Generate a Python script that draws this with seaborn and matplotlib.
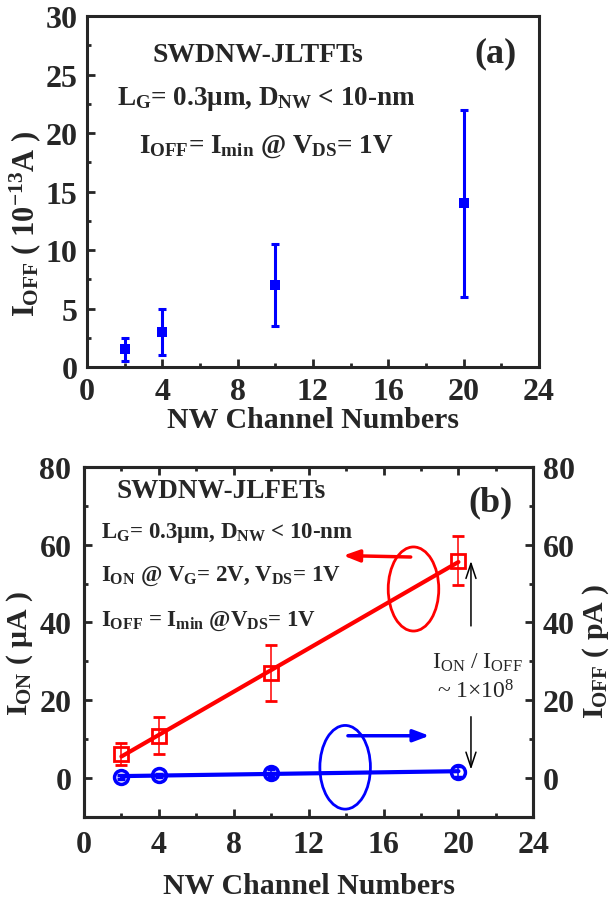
import numpy as np
import matplotlib
matplotlib.use("Agg")
import matplotlib.pyplot as plt
from matplotlib.patches import Ellipse
import seaborn as sns
import pandas as pd

# ---------------- data ----------------
n_top = [2, 4, 10, 20]
ioff_top = [1.5, 3.0, 7.0, 14.0]
ioff_top_err = [1.0, 2.0, 3.5, 8.0]

n_b = [2, 4, 10, 20]
ion = [6.2, 10.9, 27.0, 55.9]
ion_err = [2.8, 4.8, 7.2, 6.4]
ioff_b = [0.4, 0.7, 1.3, 1.7]
ioff_b_err = [0.5, 0.5, 1.0, 1.5]

x_ticks = [0, 4, 8, 12, 16, 20, 24]
ytop_ticks = [0, 5, 10, 15, 20, 25, 30]
yb_ticks = [0, 20, 40, 60, 80]

sns.set_theme(style="ticks")
plt.rcParams['font.family'] = ['Liberation Serif', 'DejaVu Serif']
plt.rcParams['font.weight'] = 'bold'
plt.rcParams['mathtext.fontset'] = 'custom'
plt.rcParams['mathtext.rm'] = 'Liberation Serif:bold'
plt.rcParams['mathtext.it'] = 'Liberation Serif:bold'
plt.rcParams['mathtext.bf'] = 'Liberation Serif:bold'
plt.rcParams['axes.linewidth'] = 2.2

BLUE = '#0000ff'
RED = '#ff0000'
TICKFS = 23
LABFS = 21.5

fig = plt.figure(figsize=(6.13, 9.03), dpi=100)

# ---------------- panel (a) ----------------
ax1 = fig.add_axes([0.142, 0.5925, 0.737, 0.3885])
df_a = pd.DataFrame({'n': n_top, 'ioff': ioff_top, 'err': ioff_top_err})
ax1.errorbar(df_a['n'], df_a['ioff'], yerr=df_a['err'], fmt='none', ecolor=BLUE,
             elinewidth=2.2, capsize=3, capthick=2.2)
sns.scatterplot(data=df_a, x='n', y='ioff', marker='s', s=55, color=BLUE,
                edgecolor=BLUE, linewidth=0, ax=ax1, zorder=3)
ax1.set_xlim(0, 24)
ax1.set_ylim(0, 30)
ax1.set_xticks(x_ticks)
ax1.set_yticks(ytop_ticks)
ax1.set_xticks(np.arange(2, 24, 4), minor=True)
ax1.set_yticks(np.arange(2.5, 30, 5), minor=True)
ax1.tick_params(which='major', direction='in', length=6, width=2,
                labelsize=TICKFS, pad=7, top=False, right=False)
ax1.tick_params(which='minor', direction='in', length=3, width=2,
                top=False, right=False)
ax1.set_xlabel('NW Channel Numbers', fontsize=LABFS, fontweight='bold', va='top')
ax1.xaxis.set_label_coords(0.5, -0.112)
ax1.set_ylabel(r'$I_{OFF}$ ( 10$^{-13}$A )', fontsize=22, fontweight='bold')
ax1.yaxis.set_label_coords(-0.098, 0.41)

ax1.text(9.1, 26.7, 'SWDNW-JLTFTs', fontsize=20, fontweight='bold', ha='center', va='center')
ax1.text(21.7, 26.9, '(a)', fontsize=26, fontweight='bold', ha='center', va='center')
ax1.text(9.5, 23.0, r'$L_G$= 0.3μm, $D_{NW}$ < 10-nm', fontsize=19.5, fontweight='bold',
         ha='center', va='center')
ax1.text(9.5, 18.9, r'$I_{OFF}$= $I_{min}$ @ $V_{DS}$= 1V', fontsize=19.5, fontweight='bold',
         ha='center', va='center')

# ---------------- panel (b) ----------------
ax2 = fig.add_axes([0.137, 0.094, 0.733, 0.388])
ax3 = ax2.twinx()
df_on = pd.DataFrame({'n': n_b, 'ion': ion, 'err': ion_err})
df_off = pd.DataFrame({'n': n_b, 'ioff': ioff_b, 'err': ioff_b_err})

sns.regplot(data=df_on, x='n', y='ion', ci=None, scatter=False, truncate=True,
            color=RED, line_kws={'lw': 3}, ax=ax2)
ax2.errorbar(df_on['n'], df_on['ion'], yerr=df_on['err'], fmt='s', ms=10, mfc='none',
             mec=RED, mew=2, ecolor=RED, elinewidth=1.1, capsize=4, capthick=1.1,
             color=RED, zorder=4)

sns.regplot(data=df_off, x='n', y='ioff', ci=None, scatter=False, truncate=True,
            color=BLUE, line_kws={'lw': 3}, ax=ax3)
ax3.errorbar(df_off['n'], df_off['ioff'], yerr=df_off['err'], fmt='o', ms=10, mfc='none',
             mec=BLUE, mew=2.5, ecolor=BLUE, elinewidth=1.1, capsize=3, capthick=1.1,
             color=BLUE, zorder=4)

for a in (ax2, ax3):
    a.set_xlim(0, 24)
    a.set_ylim(-10, 80)
    a.set_yticks(yb_ticks)
    a.set_yticks(np.arange(10, 80, 20), minor=True)
ax2.set_xticks(x_ticks)
ax2.set_xticks(np.arange(2, 24, 4), minor=True)
ax2.tick_params(which='major', direction='in', length=6, width=2, labelsize=TICKFS,
                pad=9, top=True, right=False)
ax2.tick_params(which='minor', direction='in', length=3, width=2, top=True, right=False)
ax3.tick_params(which='major', direction='in', length=6, width=2, labelsize=TICKFS, pad=7)
ax3.tick_params(which='minor', direction='in', length=3, width=2)
for a in (ax2, ax3):
    for s in a.spines.values():
        s.set_linewidth(2.2)

ax2.set_xlabel('NW Channel Numbers', fontsize=LABFS, fontweight='bold', va='top')
ax2.xaxis.set_label_coords(0.5, -0.158)
ax2.set_ylabel(r'$I_{ON}$ ( μA )', fontsize=LABFS, fontweight='bold')
ax2.yaxis.set_label_coords(-0.11, 0.47)
ax3.set_ylabel(r'$I_{OFF}$ ( pA )', fontsize=LABFS, fontweight='bold')
ax3.yaxis.set_label_coords(1.105, 0.475)
ax3.set_xlabel('')

ax3.text(7.3, 74, 'SWDNW-JLFETs', fontsize=19.5, fontweight='bold', ha='center', va='center')
ax3.text(21.7, 71, '(b)', fontsize=26, fontweight='bold', ha='center', va='center')
ax3.text(0.9, 63.3, r'$L_G$= 0.3μm, $D_{NW}$ < 10-nm', fontsize=16.5, fontweight='bold',
         ha='left', va='center')
ax3.text(0.9, 52.0, r'$I_{ON}$ @ $V_G$= 2V, $V_{DS}$= 1V', fontsize=16.5, fontweight='bold',
         ha='left', va='center')
ax3.text(0.9, 40.5, r'$I_{OFF}$ = $I_{min}$ @$V_{DS}$= 1V', fontsize=16.5, fontweight='bold',
         ha='left', va='center')
ax3.text(21.0, 29.8, r'$\mathregular{I_{ON}}$ / $\mathregular{I_{OFF}}$', fontsize=17,
         fontweight='normal', ha='center', va='center')
ax3.text(20.9, 22.5, r'~ 1×10$\mathregular{^8}$', fontsize=17, fontweight='normal',
         ha='center', va='center')

# ellipses and arrows
ax3.add_patch(Ellipse((17.6, 48.6), 2.7, 21.6, fill=False, ec=RED, lw=2))
ax3.add_patch(Ellipse((13.95, 2.8), 2.7, 21.5, fill=False, ec=BLUE, lw=2))
ax3.annotate('', xy=(13.7, 57.2), xytext=(17.6, 56.8),
             arrowprops=dict(arrowstyle='-|>,head_length=0.8,head_width=0.3', color=RED, lw=2.5))
ax3.annotate('', xy=(18.6, 10.9), xytext=(13.95, 10.9),
             arrowprops=dict(arrowstyle='-|>,head_length=0.8,head_width=0.3', color=BLUE, lw=2.5))
ax3.annotate('', xy=(20.67, 56.5), xytext=(20.67, 38.4),
             arrowprops=dict(arrowstyle='->,head_length=0.9,head_width=0.3', color='black', lw=1.1))
ax3.annotate('', xy=(20.67, 1.5), xytext=(20.67, 16.5),
             arrowprops=dict(arrowstyle='->,head_length=0.9,head_width=0.3', color='black', lw=1.1))

fig.savefig('out.png', dpi=100)
